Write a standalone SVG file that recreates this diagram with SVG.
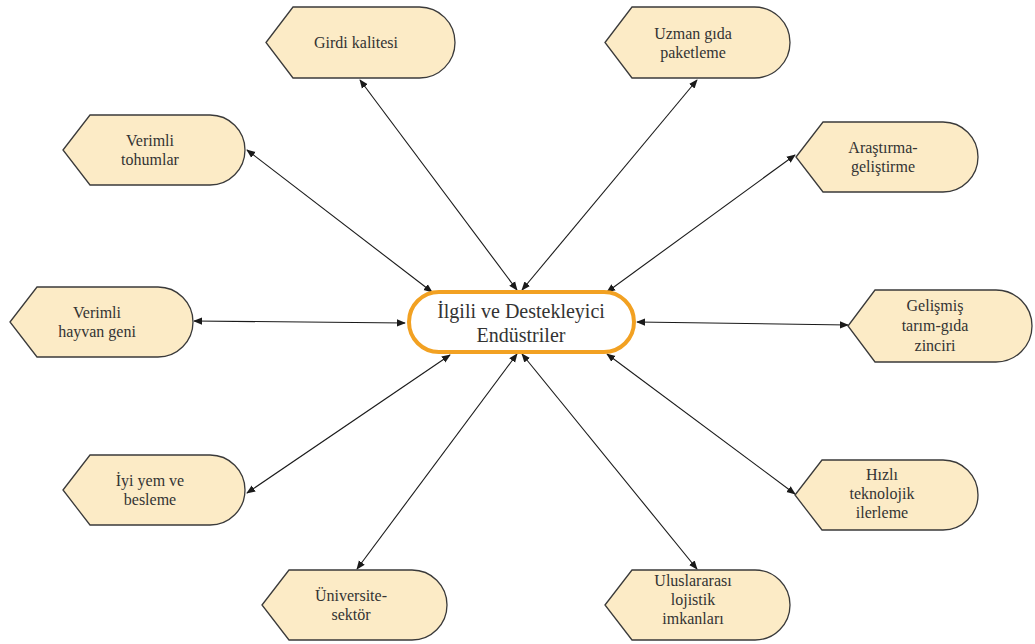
<svg xmlns="http://www.w3.org/2000/svg" width="1035" height="644" viewBox="0 0 1035 644" font-family="Liberation Serif, Times New Roman, serif">
<defs>
<marker id="ah" viewBox="0 0 10 10" refX="9" refY="5" markerWidth="9" markerHeight="9" markerUnits="userSpaceOnUse" orient="auto-start-reverse">
<path d="M0,1 L10,5 L0,9 z" fill="#1a1a1a"/>
</marker>
<style>
.node-shape{fill:#FCEBC6;stroke:#3a3a3a;stroke-width:1.3}
.node-label{font-family:'Liberation Serif',serif !important;font-size:16px;fill:#333;text-anchor:middle}
.main-label{font-family:'Liberation Serif',serif !important;font-size:20px;fill:#333;text-anchor:middle}
.conn{stroke:#1a1a1a;stroke-width:1.1;fill:none;marker-start:url(#ah);marker-end:url(#ah)}
</style>
</defs>
<rect width="1035" height="644" fill="#fff"/>
<g id="connectors">
<line class="conn" x1="360" y1="80" x2="517" y2="290"/>
<line class="conn" x1="697" y1="80" x2="522" y2="290"/>
<line class="conn" x1="247" y1="150" x2="432" y2="292"/>
<line class="conn" x1="795" y1="155" x2="607" y2="292"/>
<line class="conn" x1="194" y1="321" x2="405" y2="323"/>
<line class="conn" x1="848" y1="325" x2="637" y2="322"/>
<line class="conn" x1="247" y1="493" x2="450" y2="355"/>
<line class="conn" x1="795" y1="494" x2="607" y2="354"/>
<line class="conn" x1="357" y1="569" x2="517" y2="354"/>
<line class="conn" x1="697" y1="569" x2="522" y2="354"/>
</g>
<g id="center">
<rect x="409" y="292" width="225" height="60" rx="30" fill="#fff" stroke="#F2A122" stroke-width="4"/>
<text class="main-label" x="521" y="318">İlgili ve Destekleyici</text>
<text class="main-label" x="521" y="342">Endüstriler</text>
</g>
<g id="girdi">
<path class="node-shape" d="M266,42.5 L293,7 L419.5,7 A35.5,35.5 0 0 1 419.5,78 L293,78 Z"/>
<text class="node-label" x="356" y="48">Girdi kalitesi</text>
</g>
<g id="uzman">
<path class="node-shape" d="M605,42.5 L632,7 L754.5,7 A35.5,35.5 0 0 1 754.5,78 L632,78 Z"/>
<text class="node-label" x="693" y="39">Uzman gıda</text>
<text class="node-label" x="693" y="58">paketleme</text>
</g>
<g id="tohum">
<path class="node-shape" d="M63,150 L90,115 L210,115 A35,35 0 0 1 210,185 L90,185 Z"/>
<text class="node-label" x="150" y="146">Verimli</text>
<text class="node-label" x="150" y="165">tohumlar</text>
</g>
<g id="arastirma">
<path class="node-shape" d="M796,157 L823,122 L943,122 A35,35 0 0 1 943,192 L823,192 Z"/>
<text class="node-label" x="883" y="153">Araştırma-</text>
<text class="node-label" x="883" y="172">geliştirme</text>
</g>
<g id="hayvan">
<path class="node-shape" d="M10,322 L37,287 L158,287 A35,35 0 0 1 158,357 L37,357 Z"/>
<text class="node-label" x="97" y="318">Verimli</text>
<text class="node-label" x="97" y="337">hayvan geni</text>
</g>
<g id="gelismis">
<path class="node-shape" d="M848,326 L875,290 L996,290 A36,36 0 0 1 996,362 L875,362 Z"/>
<text class="node-label" x="935" y="311">Gelişmiş</text>
<text class="node-label" x="935" y="331">tarım-gıda</text>
<text class="node-label" x="935" y="351">zinciri</text>
</g>
<g id="yem">
<path class="node-shape" d="M63,490 L90,455 L210,455 A35,35 0 0 1 210,525 L90,525 Z"/>
<text class="node-label" x="150" y="486">İyi yem ve</text>
<text class="node-label" x="150" y="505">besleme</text>
</g>
<g id="hizli">
<path class="node-shape" d="M795,495 L822,460 L943,460 A35,35 0 0 1 943,530 L822,530 Z"/>
<text class="node-label" x="882" y="480">Hızlı</text>
<text class="node-label" x="882" y="499">teknolojik</text>
<text class="node-label" x="882" y="518">ilerleme</text>
</g>
<g id="universite">
<path class="node-shape" d="M262,605 L289,570 L412,570 A35,35 0 0 1 412,640 L289,640 Z"/>
<text class="node-label" x="351" y="601">Üniversite-</text>
<text class="node-label" x="351" y="620">sektör</text>
</g>
<g id="lojistik">
<path class="node-shape" d="M605,605 L632,570 L755,570 A35,35 0 0 1 755,640 L632,640 Z"/>
<text class="node-label" x="693" y="586">Uluslararası</text>
<text class="node-label" x="693" y="605">lojistik</text>
<text class="node-label" x="693" y="624">imkanları</text>
</g>
</svg>
